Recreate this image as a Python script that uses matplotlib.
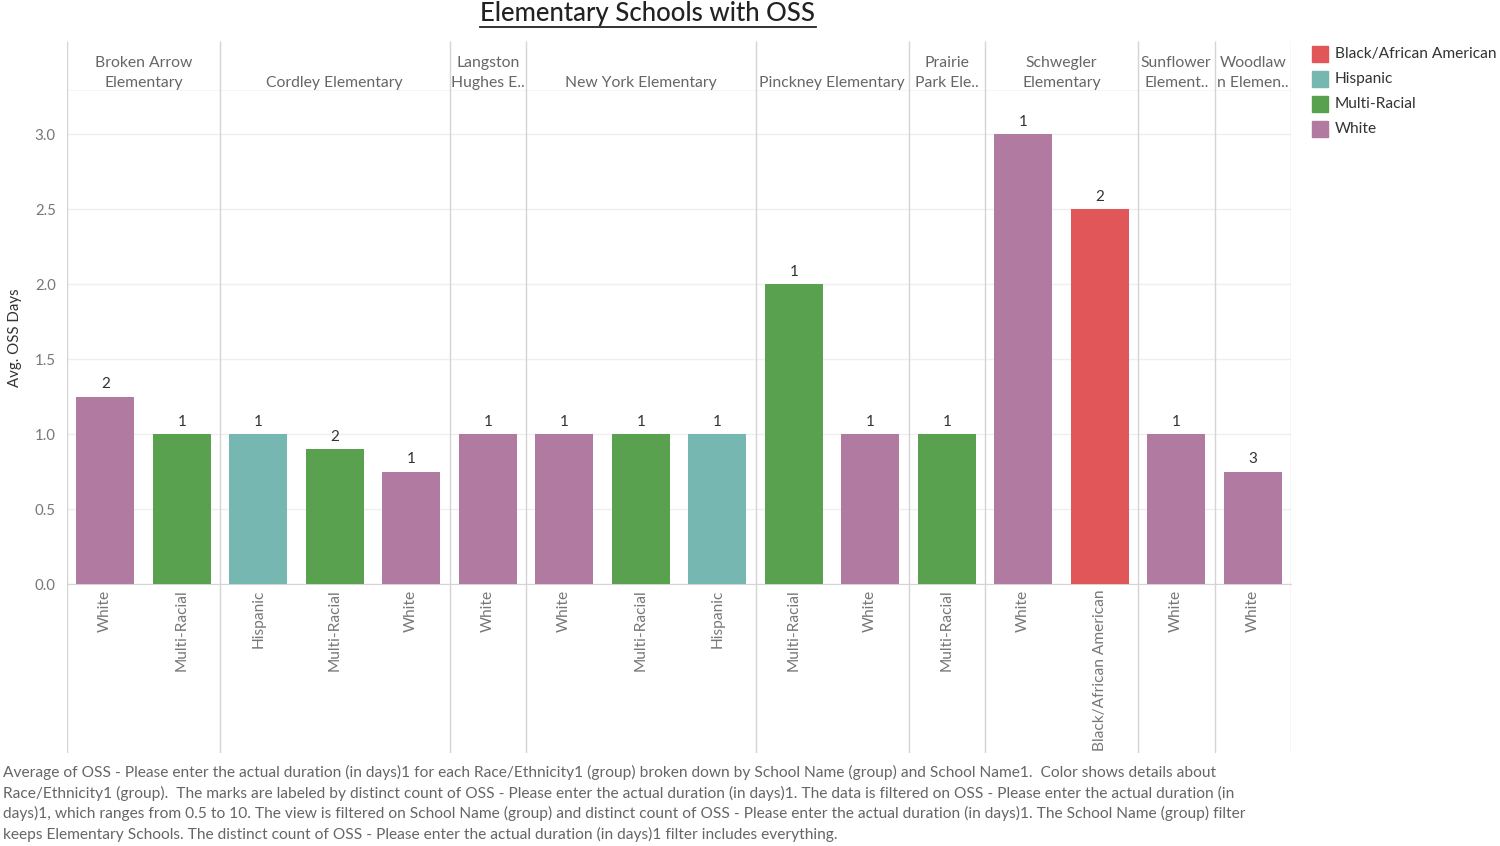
import matplotlib.pyplot as plt
from matplotlib.patches import Rectangle
from matplotlib.lines import Line2D

plt.rcParams['font.family'] = ['Lato', 'DejaVu Sans']

# data
schools = ["Broken Arrow\nElementary", "Cordley Elementary", "Langston\nHughes E..",
           "New York Elementary", "Pinckney Elementary", "Prairie\nPark Ele..",
           "Schwegler\nElementary", "Sunflower\nElement..", "Woodlaw\nn Elemen.."]
races = [["White", "Multi-Racial"],
         ["Hispanic", "Multi-Racial", "White"],
         ["White"],
         ["White", "Multi-Racial", "Hispanic"],
         ["Multi-Racial", "White"],
         ["Multi-Racial"],
         ["White", "Black/African American"],
         ["White"],
         ["White"]]
avg_days = [[1.25, 1.0], [1.0, 0.9, 0.75], [1.0], [1.0, 1.0, 1.0], [2.0, 1.0],
            [1.0], [3.0, 2.5], [1.0], [0.75]]
counts = [[2, 1], [1, 2, 1], [1], [1, 1, 1], [1, 1], [1], [1, 2], [1], [3]]

legend_names = ["Black/African American", "Hispanic", "Multi-Racial", "White"]
colors = {"Black/African American": "#E15759", "Hispanic": "#76B7B2",
          "Multi-Racial": "#59A14F", "White": "#B07AA1"}

footer = ("Average of OSS - Please enter the actual duration (in days)1 for each Race/Ethnicity1 (group) broken down by School Name (group) and School Name1.  Color shows details about\n"
          "Race/Ethnicity1 (group).  The marks are labeled by distinct count of OSS - Please enter the actual duration (in days)1. The data is filtered on OSS - Please enter the actual duration (in\n"
          "days)1, which ranges from 0.5 to 10. The view is filtered on School Name (group) and distinct count of OSS - Please enter the actual duration (in days)1. The School Name (group) filter\n"
          "keeps Elementary Schools. The distinct count of OSS - Please enter the actual duration (in days)1 filter includes everything.")

W, H = 1500, 846
fig = plt.figure(figsize=(15, 8.46), dpi=100)

left, right = 67 / W, 1291 / W
ax = fig.add_axes([left, 1 - 584 / H, right - left, (584 - 91) / H])

# flatten the groups into bar positions
x_race, x_val, x_cnt, bounds, centers = [], [], [], [-0.5], []
pos = 0
for r, v, c in zip(races, avg_days, counts):
    start = pos
    x_race += r
    x_val += v
    x_cnt += c
    pos += len(r)
    bounds.append(pos - 0.5)
    centers.append((start + pos - 1) / 2)
xs = list(range(len(x_val)))

bars = ax.bar(xs, x_val, width=0.76, color=[colors[r] for r in x_race], zorder=3)
for b, c in zip(bars, x_cnt):
    ax.text(b.get_x() + b.get_width() / 2, b.get_height() + 0.035, str(c),
            ha='center', va='bottom', fontsize=11, color='#333333')

ax.set_xlim(-0.5, len(xs) - 0.5)
ax.set_ylim(0, 3.29)
ax.set_yticks([0, 0.5, 1.0, 1.5, 2.0, 2.5, 3.0])
ax.set_yticklabels(['0.0', '0.5', '1.0', '1.5', '2.0', '2.5', '3.0'])
ax.grid(axis='y', color='#efefef', linewidth=1, zorder=0)
ax.set_xticks(xs)
ax.set_xticklabels(x_race, rotation=90, va='top')
ax.tick_params(axis='x', length=0, pad=4, labelsize=11.2, labelcolor='#777777')
ax.tick_params(axis='y', length=0, pad=8, labelsize=10.8, labelcolor='#777777')
for s in ['top', 'right', 'left']:
    ax.spines[s].set_visible(False)
ax.spines['bottom'].set_color('#d4d4d4')
ax.set_ylabel('Avg. OSS Days', fontsize=10.8, color='#333333')
ax.yaxis.set_label_coords(-0.037, 0.5)

# header strip with school names
hdr = fig.add_axes([left, 1 - 91 / H, right - left, 50 / H])
hdr.set_xlim(ax.get_xlim())
hdr.set_ylim(0, 1)
hdr.axis('off')
for cx, name in zip(centers, schools):
    hdr.text(cx, 0.02, name, ha='center', va='bottom', multialignment='center',
             fontsize=11.3, color='#666666', linespacing=1.55)
hdr.axhline(0, color='#d4d4d4', linewidth=1)

# separators running from header top to label area bottom
over = fig.add_axes([left, 1 - 753 / H, right - left, (753 - 41) / H])
over.set_xlim(ax.get_xlim())
over.set_ylim(0, 1)
over.axis('off')
over.patch.set_alpha(0)
over.vlines(bounds, 0, 1, color='#d4d4d4', linewidth=1)

# legend
for i, name in enumerate(legend_names):
    yc = 54 + i * 25
    fig.add_artist(Rectangle((1312 / W, 1 - (yc + 8) / H), 16 / W, 16 / H,
                             transform=fig.transFigure, color=colors[name]))
    fig.text(1335 / W, 1 - yc / H, name, ha='left', va='center', fontsize=11.2, color='#333333')

# title with underline
title = fig.text(648 / W, 1 - 14 / H, 'Elementary Schools with OSS', ha='center', va='center',
                 fontsize=18.5, color='#222222', fontweight='medium')
fig.canvas.draw()
bb = title.get_window_extent().transformed(fig.transFigure.inverted())
fig.add_artist(Line2D([bb.x0, bb.x1], [bb.y0 - 0.001, bb.y0 - 0.001], transform=fig.transFigure,
                      color='#222222', linewidth=1.3))

fig.text(3 / W, 1 - 765 / H, footer, ha='left', va='top', fontsize=11.2, color='#666666',
         linespacing=1.45)

fig.savefig('out.png', dpi=100)
